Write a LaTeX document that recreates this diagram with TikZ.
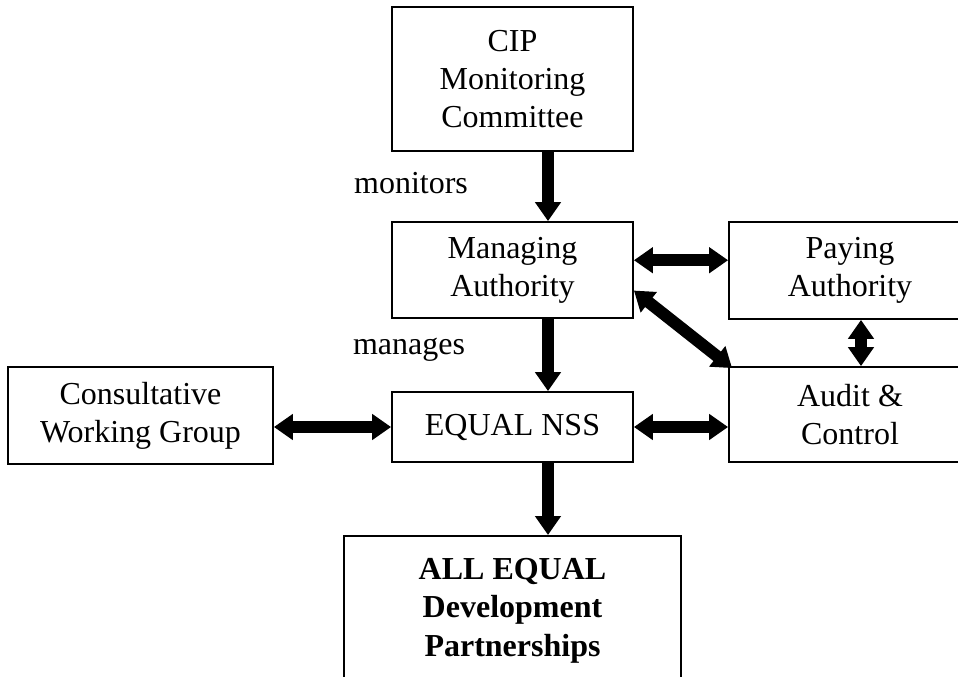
\documentclass[tikz,border=0pt]{standalone}
\usepackage{fontspec}
\setmainfont{Liberation Serif}
\usetikzlibrary{arrows.meta,calc}
\begin{document}
\begin{tikzpicture}[x=1pt,y=-1pt,
  box/.style={draw, line width=1.8pt, rectangle, inner sep=0pt, align=center,
    font=\fontsize{32}{38}\selectfont},
  lbl/.style={inner sep=0pt, font=\fontsize{32}{38}\selectfont},
  fat/.style={line width=12pt, -{Triangle[width=25pt,length=19pt]}},
  fatboth/.style={line width=12pt, {Triangle[width=25pt,length=19pt]}-{Triangle[width=25pt,length=19pt]}}]
\useasboundingbox (0,0) rectangle (958,677);
\clip (0,0) rectangle (958,677);
\fill[white] (0,0) rectangle (958,677);
\node[box, minimum width=241pt, minimum height=144pt] (cip) at (512.5,79) {CIP\\Monitoring\\Committee};
\node[box, minimum width=241pt, minimum height=96pt] (ma) at (512.5,270) {Managing\\Authority};
\node[box, minimum width=242pt, minimum height=97pt] (pa) at (850,270.5) {Paying\\Authority};
\node[box, minimum width=242pt, minimum height=95pt] (ac) at (850,414.5) {Audit \&\\Control};
\node[box, minimum width=241pt, minimum height=70pt] (nss) at (512.5,427) {EQUAL NSS};
\node[box, minimum width=265pt, minimum height=97pt] (cwg) at (140.5,415.5) {Consultative\\Working Group};
\node[box, minimum width=337pt, minimum height=200pt, anchor=north] (all) at (512.5,535) {};
\node[lbl, align=center, anchor=north, font=\fontsize{32}{38.5}\selectfont\bfseries] (alltxt) at ($(all.north)+(0,23)$) {ALL EQUAL\\Development\\Partnerships};
\node[lbl] (mon) at (411,183) {monitors};
\node[lbl] (man) at (409,350) {manages};
% vertical arrows
\draw[fat] ($(cip.south)+(35.5,0)$) coordinate (c1) -- (c1 |- ma.north);
\draw[fat] ($(ma.south)+(35.5,0)$) coordinate (c2) -- (c2 |- nss.north);
\draw[fat] ($(nss.south)+(35.5,0)$) coordinate (c3) -- (c3 |- all.north);
% horizontal arrows
\draw[fatboth] ($(ma.north east)!0.4!(ma.south east)$) coordinate (h1) -- (h1 -| pa.west);
\draw[fatboth] (nss.west) -- (nss.west -| cwg.east);
\draw[fatboth] (nss.east) -- (nss.east -| ac.west);
\draw[fatboth] ($(pa.south)+(11,0)$) coordinate (v1) -- (v1 |- ac.north);
\draw[fatboth] ($(ma.north east)!0.71!(ma.south east)$) -- ($(ac.north west)+(4,2)$);
\end{tikzpicture}
\end{document}
